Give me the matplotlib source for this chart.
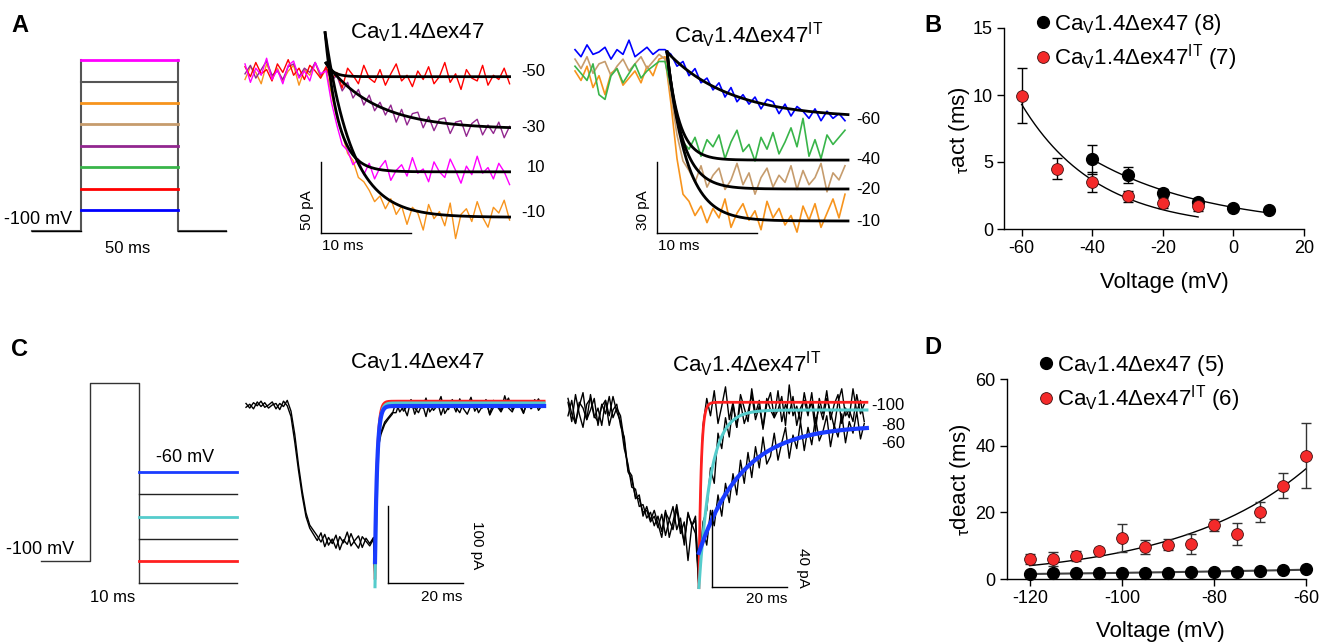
import numpy as np
import matplotlib
matplotlib.use("Agg")
import matplotlib.pyplot as plt
from matplotlib.lines import Line2D

plt.rcParams.update({
    "font.family": ["Liberation Sans", "DejaVu Sans"],
    "mathtext.fontset": "custom",
    "mathtext.rm": "Liberation Sans",
    "mathtext.it": "Liberation Sans:italic",
    "mathtext.bf": "Liberation Sans:bold",
    "axes.unicode_minus": False,
})

# ---------------- data ----------------
# panel A protocol: step voltages (mV) and their colours, durations (ms)
A_step_mv = [-60, -50, -40, -30, -20, -10, 0, 10]
A_step_colors = ["#0000ff", "#ff0000", "#39b54a", "#92278f", "#c69c6d", "#f7941d", "#555555", "#ff00ff"]
A_hold_ms, A_step_ms, A_post_ms = 25, 50, 25

# panel A, left traces (CaV1.4dex47), sampled every 0.6 ms, pA
A1_t = np.arange(50) * 0.6
A1_red = [3, -4, 6, -2, 1, -7, 5, -1, 8, -3, 2, -6, 4, 0, -5,
          3, -6, -1, -12, 2, -3, -9, 4, -5, -8, 1, -10, -2, 5, -7, -3, -11, 0, -6, 3,
          -9, -4, 6, -8, -2, -13, 1, -5, -7, 4, -10, -3, -6, 2, -9]
A1_purple = [-2, 4, -5, 1, 7, -3, 0, -6, 3, 5, -4, 2, -1, 6, -3,
             2, -7, -3, -14, -8, -19, -13, -24, -17, -28, -22, -31, -24, -36, -27, -38, -30, -29, -40, -32,
             -42, -34, -33, -44, -36, -35, -46, -37, -34, -45, -38, -44, -36, -47, -39]
A1_magenta = [5, -8, 2, -3, 9, -6, 1, -9, 4, 7, -5, 0, -7, 6, -2,
              0, -22, -38, -52, -56, -66, -62, -73, -65, -76, -68, -63, -77, -70, -66, -74, -61, -72, -69, -78,
              -64, -71, -75, -62, -70, -79, -67, -73, -60, -72, -68, -76, -65, -71, -80]
A1_orange = [-6, 3, -1, -9, 5, -4, 2, -7, 0, 4, -10, 1, -3, 6, -5,
             1, -16, -33, -44, -58, -63, -75, -78, -84, -92, -88, -97, -90, -101, -95, -108, -96, -100, -112, -94,
             -104, -99, -109, -93, -118, -101, -97, -106, -92, -103, -110, -96, -100, -91, -105]
A1_labels = ["-50", "-30", "10", "-10"]
# exponential fits: (start ms, start pA, steady pA, tau ms)
A1_fits = [(9.0, 5.6, -4, 0.8), (9.0, 5.6, -41, 5.5), (8.9, 27, -71, 1.47), (8.9, 27, -103, 3.0)]

# panel A, right traces (CaV1.4dex47 IT), sampled every 0.6 ms, pA
A2_t = np.arange(46) * 0.6
A2_blue = [1, -2, 3, -1, 0, 2, -3, 1, -1, 5, -2, 0, 2, -1, 1,
           1, -1, -6, -4, -10, -7, -13, -11, -16, -13, -19, -15, -21, -18, -22, -19,
           -24, -20, -21, -26, -22, -27, -23, -25, -28, -24, -29, -25, -28, -26, -29]
A2_green = [-6, -9, -12, -5, -18, -20, -10, -7, -13, -9, -5, -11, -8, -6, -4,
            -4, -15, -28, -38, -41, -36, -44, -37, -40, -35, -45, -38, -33, -42, -39, -46,
            -36, -41, -34, -43, -38, -32, -40, -28, -44, -37, -45, -35, -39, -36, -33]
A2_tan = [-3, -7, -2, -9, -5, -4, -10, -6, -3, -8, -5, -2, -7, -4, -1,
          -3, -18, -35, -46, -50, -55, -48, -57, -52, -49, -58, -54, -47, -56, -51, -60,
          -53, -49, -57, -52, -55, -48, -58, -50, -56, -53, -47, -59, -51, -54, -48]
A2_orange = [-8, -12, -6, -15, -10, -18, -9, -7, -14, -11, -8, -13, -6, -10, -3,
             -2, -22, -45, -60, -63, -69, -65, -72, -66, -70, -62, -74, -68, -64, -71, -67,
             -75, -63, -70, -66, -73, -69, -76, -65, -71, -64, -74, -68, -62, -70, -60]
A2_labels = ["-60", "-40", "-20", "-10"]
A2_fits = [(9.2, 0, -28, 6.3), (9.2, 0, -45.6, 1.2), (9.2, 0, -57.8, 1.54), (9.2, 0, -71.3, 1.93)]

# panel B: tau activation (ms)
B_volt_wt = [-40, -30, -20, -10, 0, 10]
B_tau_wt = [5.2, 4.05, 2.7, 2.0, 1.6, 1.4]
B_err_wt = [1.1, 0.6, 0.25, 0.3, 0.15, 0.1]
B_volt_it = [-60, -50, -40, -30, -20, -10]
B_tau_it = [9.95, 4.5, 3.5, 2.45, 1.95, 1.75]
B_err_it = [2.05, 0.8, 0.75, 0.4, 0.4, 0.4]
# exponential fits: (first mV, last mV, tau at first mV, e-fold mV)
B_fit_wt = (-40, 10, 5.2, 34.1)
B_fit_it = (-60, -10, 9.3, 21.4)

# panel C protocol
C_hold_mv, C_pre_mv = -100, -20
C_step_mv = [-60, -70, -80, -90, -100, -110]
C_step_colors = ["#1a3cff", "#222222", "#55cccc", "#222222", "#ff2020", "#222222"]
C_hold_ms, C_pre_ms, C_step_ms = 10, 10, 20

# panel C, left traces (ms, pA)
C1_t = list(range(0, 35)) + [34.4, 35, 35.5] + list(range(36, 80))
C1_a = [2, -4, 3, -1, 5, -3, 0, 4, -5, 2, -2, 6,
        -8, -38, -78, -112, -140, -156, -163,
        -170, -178, -168, -182, -174, -186, -171, -179, -165, -183, -176, -170, -185, -173, -180, -172,
        -230, -75, -45,
        -35, -22, -16, -10,
        -10, 4, -8, -1, 6, -12, 0, -4, 9, -9, -2, 5, -13, 1, -6, 7, -3, -10, 3, -1,
        10, -8, 0, -4, 5, -12, 6, -2, -9, 1, 9, -6, -1, 4, -10, 3, -3, 7, -7, 0]
C1_b = [-3, 1, -5, 4, -2, 3, -4, 0, 2, -6, 5, -1,
        -15, -48, -85, -118, -145, -160, -168,
        -176, -166, -184, -172, -180, -169, -188, -175, -181, -167, -179, -186, -171, -177, -183, -174,
        -236, -80, -50,
        -38, -25, -18, -12,
        4, -9, -2, -14, 7, -4, -10, 2, -15, 5, -7, -1, 11, -11, -3, 3, -9, 8, -5, -12,
        0, 5, -10, -2, 7, -13, -3, 1, -7, 12, -4, -9, 3, -1, -11, 5, -5, 0, 8, -3]
# tail fits (start ms, start pA, steady pA, tau ms): -100, -80, -60 mV
C1_fits = [(34.4, -225, 5, 0.55), (34.4, -236, 2.6, 0.6), (34.4, -204, -1.3, 0.6)]

# panel C, right traces (ms, pA)
C2_t = list(range(0, 35)) + [34.9, 35.5] + list(range(36, 80))
C2_a = [4, -6, 8, -2, -9, 3, 6, -4, 1, -8, 5, -3, 7, -1,
        -6, -20, -28, -40, -41, -50, -49, -56, -53, -60,
        -55, -63, -52, -66, -58, -49, -61, -68, -54, -59, -64,
        -92, -30,
        -8, 6, -3, 10, -7, 2, 12, -5, 4, -9, 8, 1, -6, 11, -2, 5, -10, 3, 9, -4,
        0, 7, -8, 13, -3, 2, -6, 9, -1, 4, -11, 6, -2, 10, -5, 3, 8, -7, 1, -4, 11, -1, 5, -6]
C2_b = [-3, 5, -7, 2, 9, -5, 0, 6, -8, 3, -2, 7, -4, 1,
        -3, -16, -32, -36, -45, -46, -53, -52, -58, -55,
        -61, -54, -65, -57, -50, -62, -56, -70, -53, -60, -57,
        -92, -70,
        -58, -52, -30, -38, -12, -20, -4, -14, 3, -9, 4, -7, -1, 8, -5, 2, -9, 6, 0, -4,
        10, -6, 3, -2, 7, -8, 1, 5, -3, 9, -7, 2, -5, 6, -1, -9, 4, 11, -3, 0, -6, 8, -2, 3]
C2_c = [6, -2, -7, 4, 1, -5, 8, -3, -6, 2, 5, -8, 0, 3,
        -8, -14, -31, -34, -46, -44, -55, -50, -57, -52,
        -59, -66, -53, -57, -62, -51, -64, -58, -78, -60, -55,
        -92, -75,
        -62, -70, -52, -60, -44, -55, -38, -48, -33, -44, -26, -38, -22, -35, -19, -30, -14, -28, -24, -12,
        -26, -17, -9, -25, -13, -20, -6, -21, -9, -18, -4, -16, -11, -3, -19, -8, -14, -2, -17, -6, -12, -1, -15, -7]
C2_labels = ["-100", "-80", "-60"]
C2_fits = [(34.9, -92, 4, 0.6), (34.9, -92, 0, 3.2), (34.9, -74, -8, 11.5)]
C_fit_colors = ["#ff2020", "#55cccc", "#1a3cff"]
C_fit_widths = [2.0, 2.2, 3.0]

# panel D: tau deactivation (ms)
D_volt = [-120, -115, -110, -105, -100, -95, -90, -85, -80, -75, -70, -65, -60]
D_tau_wt = [1.6, 1.7, 1.8, 1.8, 1.8, 1.9, 1.8, 2.0, 2.2, 2.1, 2.3, 2.7, 3.0]
D_err_wt = [0.3, 0.3, 0.3, 0.3, 0.3, 0.3, 0.3, 0.4, 0.4, 0.4, 0.4, 0.4, 0.5]
D_tau_it = [6.0, 6.0, 6.8, 8.4, 12.2, 9.6, 10.3, 10.6, 16.3, 13.5, 20.0, 28.0, 37.0]
D_err_it = [1.5, 2.0, 1.5, 1.0, 4.2, 2.0, 1.7, 3.0, 1.8, 3.3, 3.0, 3.7, 9.7]
D_fit_wt = (-120, -60, 1.5, -97.0)
D_fit_it = (-120, -60, 4.0, -28.4)

LBL_WT = r"Ca$_\mathregular{V}$1.4Δex47"
LBL_IT = r"Ca$_\mathregular{V}$1.4Δex47$^\mathregular{IT}$"
RED = "#f42a2a"

# ---------------- layout helpers ----------------
W, H = 1326, 644
fig = plt.figure(figsize=(W / 100, H / 100), dpi=100)


def px_axes(x0, y0, x1, y1):
    return fig.add_axes([x0 / W, 1 - y1 / H, (x1 - x0) / W, (y1 - y0) / H])


def mapped_axes(box, origin, scale):
    # box in pixels; origin = pixel of (0, 0); scale = pixels per data unit
    x0, y0, x1, y1 = box
    ax = px_axes(x0, y0, x1, y1)
    ax.set_xlim((x0 - origin[0]) / scale[0], (x1 - origin[0]) / scale[0])
    ax.set_ylim((origin[1] - y1) / scale[1], (origin[1] - y0) / scale[1])
    ax.axis("off")
    return ax


def ftext(x, y, s, **kw):
    kw.setdefault("ha", "center")
    kw.setdefault("va", "center")
    fig.text(x / W, 1 - y / H, s, **kw)


def expfit(ax, t_end, fit, **kw):
    t0, y0, yinf, tau = fit
    t = np.linspace(t0, t_end, 300)
    ax.plot(t, yinf + (y0 - yinf) * np.exp(-(t - t0) / tau), **kw)


def scalebar(ax, corner, dx, dy):
    ax.plot([corner[0], corner[0] + dx], [corner[1], corner[1]], color="black", lw=1, clip_on=False)
    x_v = corner[0] + dx if dx < 0 else corner[0]
    ax.plot([x_v, x_v], [corner[1], corner[1] + dy], color="black", lw=1, clip_on=False)


# ---------------- panel A protocol ----------------
axp = mapped_axes((0, 40, 240, 260), (32, 210), (1.94, 21.4))
hold_lvl = -1
top_lvl = len(A_step_mv) - 1
t1, t2, t3 = A_hold_ms, A_hold_ms + A_step_ms, A_hold_ms + A_step_ms + A_post_ms
axp.plot([0, t1, t1], [hold_lvl, hold_lvl, top_lvl], color="#555555", lw=1.5)
axp.plot([t2, t2, t3], [top_lvl, hold_lvl, hold_lvl], color="#555555", lw=1.5)
axp.plot([0, t1], [hold_lvl, hold_lvl], color="black", lw=1)
axp.plot([t2, t3], [hold_lvl, hold_lvl], color="black", lw=1)
for i, c in enumerate(A_step_colors):
    axp.plot([t1, t2], [i, i], color=c, lw=2 if c != "#555555" else 1.5)
ftext(38, 220, "-100 mV", fontsize=13)
ftext(128, 248, "50 ms", fontsize=12)

# ---------------- panel A traces ----------------
ax1 = mapped_axes((240, 25, 520, 250), (245, 71), (9, 1.42))
for y, c in [(A1_orange, "#f7941d"), (A1_purple, "#92278f"), (A1_red, "#ff0000"), (A1_magenta, "#ff00ff")]:
    ax1.plot(A1_t, y, color=c, lw=1)
for f in A1_fits:
    expfit(ax1, A1_t[-1], f, color="black", lw=2)
scalebar(ax1, (8.4, -114), 10, 50)
ftext(307, 210, "50 pA", rotation=90, fontsize=11)
ftext(343, 246, "10 ms", fontsize=11)
for lab, y in zip(A1_labels, [72, 127, 167, 212]):
    ftext(545, y, lab, ha="right", fontsize=12)
ftext(417, 38, LBL_WT, fontsize=16, va="baseline")

ax2 = mapped_axes((560, 25, 880, 250), (575, 52), (10, 2.37))
for y, c in [(A2_orange, "#f7941d"), (A2_tan, "#c69c6d"), (A2_green, "#39b54a"), (A2_blue, "#0000ff")]:
    ax2.plot(A2_t, y, color=c, lw=1.2)
for f in A2_fits:
    expfit(ax2, 27.3, f, color="black", lw=2)
scalebar(ax2, (8.17, -76.4), 10, 30)
ftext(643, 210, "30 pA", rotation=90, fontsize=11)
ftext(679, 246, "10 ms", fontsize=11)
for lab, y in zip(A2_labels, [119, 160, 189, 221]):
    ftext(880, y, lab, ha="right", fontsize=12)
ftext(749, 43, LBL_IT, fontsize=16, va="baseline")

# ---------------- panel C protocol ----------------
# y origin chosen so that -100 mV sits at pixel row 561
axc = mapped_axes((0, 340, 240, 620), (41, 339), (4.9, 2.22))
c1, c2, c3 = C_hold_ms, C_hold_ms + C_pre_ms, C_hold_ms + C_pre_ms + C_step_ms
axc.plot([0, c1, c1, c2, c2], [C_hold_mv, C_hold_mv, C_pre_mv, C_pre_mv, min(C_step_mv)],
         color="#333333", lw=1)
for v, c in zip(C_step_mv, C_step_colors):
    axc.plot([c2, c3], [v, v], color=c, lw=2 if c != "#222222" else 1)
ftext(185, 457, "-60 mV", fontsize=13)
ftext(40, 550, "-100 mV", fontsize=13)
ftext(113, 598, "10 ms", fontsize=12)

# ---------------- panel C traces ----------------
ax3 = mapped_axes((240, 360, 560, 620), (246, 405), (3.75, 0.77))
for y in (C1_a, C1_b):
    ax3.plot(C1_t, y, color="black", lw=1)
for f, c, lw in zip(C1_fits, C_fit_colors, C_fit_widths):
    expfit(ax3, 79.5, f, color=c, lw=lw)
scalebar(ax3, (57.9, -231), -20, 100)
ftext(477, 545, "100 pA", rotation=270, fontsize=11)
ftext(442, 597, "20 ms", fontsize=11)
ftext(417, 368, LBL_WT, fontsize=16, va="baseline")

ax4 = mapped_axes((560, 360, 870, 620), (568, 410), (3.75, 1.93))
for y in (C2_a, C2_b, C2_c):
    ax4.plot(C2_t, y, color="black", lw=1)
for f, c, lw in zip(C2_fits, C_fit_colors, C_fit_widths):
    expfit(ax4, 79.7, f, color=c, lw=lw)
scalebar(ax4, (58.4, -91.7), -20, 40)
ftext(803, 568, "40 pA", rotation=270, fontsize=11)
ftext(767, 599, "20 ms", fontsize=11)
for lab, y in zip(C2_labels, [406, 425, 443]):
    ftext(905, y, lab, ha="right", fontsize=12)
ftext(747, 372, LBL_IT, fontsize=16, va="baseline")


# ---------------- panels B and D ----------------
def style(ax):
    for s in ("top", "right"):
        ax.spines[s].set_visible(False)
    for s in ("left", "bottom"):
        ax.spines[s].set_linewidth(1)
    ax.tick_params(direction="out", length=5, width=1, labelsize=13, pad=3)


def fitline(ax, fit, **kw):
    v0, v1, a, k = fit
    v = np.linspace(v0, v1, 200)
    ax.plot(v, a * np.exp(-(v - v0) / k), **kw)


axB = px_axes(1004, 28, 1304, 229)
style(axB)
axB.set_xlim(-65, 20)
axB.set_ylim(0, 15)
axB.set_xticks([-60, -40, -20, 0, 20])
axB.set_yticks([0, 5, 10, 15])
fitline(axB, B_fit_wt, color="black", lw=1)
fitline(axB, B_fit_it, color="black", lw=1)
axB.errorbar(B_volt_wt, B_tau_wt, yerr=B_err_wt, fmt="none", ecolor="black", elinewidth=1, capsize=3.5)
axB.errorbar(B_volt_it, B_tau_it, yerr=B_err_it, fmt="none", ecolor="black", elinewidth=1, capsize=3.5)
axB.plot(B_volt_wt, B_tau_wt, "o", color="black", ms=8.5, clip_on=False, zorder=4)
axB.plot(B_volt_it, B_tau_it, "o", mfc=RED, mec="#401010", mew=0.6, ms=8.5, clip_on=False, zorder=5)
axB.text(0.533, -0.265, "Voltage (mV)", transform=axB.transAxes, ha="center", va="center", fontsize=16)
axB.text(-0.147, 0.49, r"${}_\mathregular{\tau}$act (ms)", transform=axB.transAxes, rotation=90,
         ha="center", va="center", fontsize=16)

axD = px_axes(1006.8, 379, 1306, 579)
style(axD)
axD.set_xlim(-125, -60)
axD.set_ylim(0, 60)
axD.set_xticks([-120, -100, -80, -60])
axD.set_yticks([0, 20, 40, 60])
fitline(axD, D_fit_it, color="black", lw=1)
fitline(axD, D_fit_wt, color="#444444", lw=1.5)
axD.errorbar(D_volt, D_tau_it, yerr=D_err_it, fmt="none", ecolor="#333333", elinewidth=1, capsize=3.5,
             clip_on=False)
axD.errorbar(D_volt, D_tau_wt, yerr=D_err_wt, fmt="none", ecolor="black", elinewidth=1, capsize=2)
axD.plot(D_volt, D_tau_wt, "o", color="black", ms=8.5, clip_on=False, zorder=4)
axD.plot(D_volt, D_tau_it, "o", mfc=RED, mec="#401010", mew=0.6, ms=8.5, clip_on=False, zorder=5)
axD.text(0.512, -0.265, "Voltage (mV)", transform=axD.transAxes, ha="center", va="center", fontsize=16)
axD.text(-0.156, 0.495, r"${}_\mathregular{\tau}$deact (ms)", transform=axD.transAxes, rotation=90,
         ha="center", va="center", fontsize=16)


def legend(ax, labels, anchor):
    handles = [Line2D([], [], marker="o", ls="", color="black", ms=8.5),
               Line2D([], [], marker="o", ls="", mfc=RED, mec="#401010", mew=0.6, ms=8.5)]
    ax.legend(handles, labels, loc="upper left", bbox_to_anchor=(anchor[0] / W, 1 - anchor[1] / H),
              bbox_transform=fig.transFigure, frameon=False, fontsize=16, handlelength=0.6,
              handletextpad=0.2, labelspacing=0.25, borderpad=0, borderaxespad=0)


legend(axB, [LBL_WT + " (8)", LBL_IT + " (7)"], (1036, 12))
legend(axD, [LBL_WT + " (5)", LBL_IT + " (6)"], (1039, 353))

# panel letters
for s, x, y in [("A", 20, 25), ("B", 933, 25), ("C", 19, 349), ("D", 933, 348)]:
    ftext(x, y, s, fontsize=17, fontweight="bold")

fig.savefig("out.png", dpi=100)
